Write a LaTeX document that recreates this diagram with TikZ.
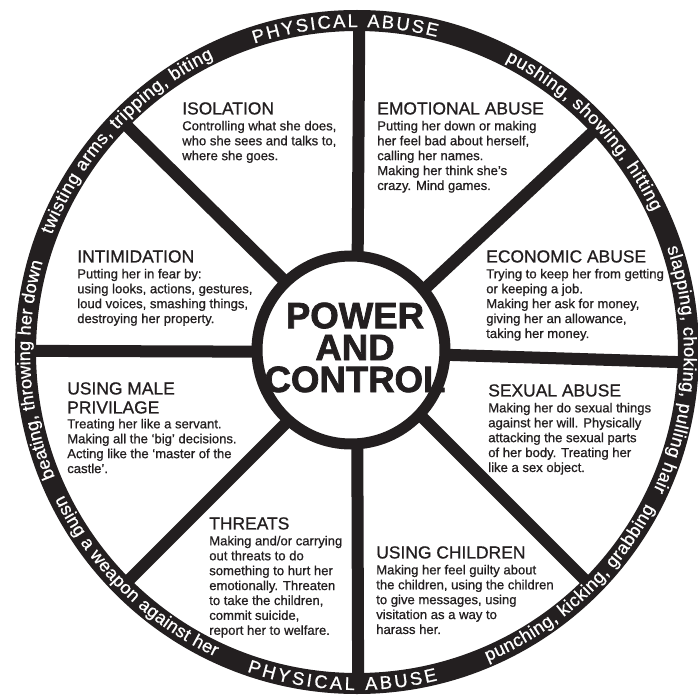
\documentclass[tikz,border=0pt]{standalone}
\usepackage{fontspec}
\setmainfont{Liberation Sans}
\newfontfamily\inkfamily[Ligatures=TeX,FakeBold=0.8]{Liberation Sans}
\newfontfamily\heavyfamily[FakeBold=2]{Liberation Sans Bold}
\usetikzlibrary{decorations.text}
\definecolor{ink}{HTML}{231F20}
\newcommand\titlefont{\fontsize{12.4}{13}\selectfont}
\newcommand\bodyfont{\inkfamily\fontsize{9.3}{10.6}\selectfont}
\newcommand\ringfont{\inkfamily\fontsize{12.8}{12.8}\selectfont}
\newcommand\capsfont{\inkfamily\fontsize{13}{13}\selectfont}
\newcommand\hubfont{\heavyfamily\fontsize{26}{22.7}\selectfont}
\def\ringtext(#1:#2:#3)#4{\path[decorate,decoration={text along path,text align=fit to path,text color=white,text={#4}}] (#1:#3) arc (#1:#2:#3);}
\tikzset{
  ring/.style={draw=ink, line width=0.525cm},
  spoke/.style={draw=ink, line width=0.3cm},
  hub/.style={draw=ink, fill=white, line width=0.275cm},
  sector/.style={anchor=north west, align=left, inner sep=0pt, font=\bodyfont, text=ink}
}

\begin{document}
\begin{tikzpicture}[x=0.025cm, y=0.025cm]
		%%%%% START %%%%%
		\useasboundingbox (-357,-347) rectangle (341,352);
		\clip (-357,-347) rectangle (341,352);
		\fill[white] (-357,-347) rectangle (341,352);
		
		% spokes, outer ring, hub
		\foreach \a in {-1.8,43,89.6,135.5,179.8,225,270.2,315}
			\draw[spoke] (0,0) -- (\a:325);
		\draw[ring] (0,0) circle (331.5);
		\draw[hub] (-6,2) circle (94);
		
		\node[align=center, font=\hubfont, text=ink, inner sep=0pt] (centre) at (-2,4.5) {POWER\\AND\\CONTROL};
		
		% ring texts, clockwise above and counter-clockwise below
		\ringtext(108.4:75.8:325){|\capsfont|PHYSICAL ABUSE}
		\ringtext(63:25.4:327){|\ringfont|pushing, showing, hitting}
		\ringtext(18.6:-25:327){|\ringfont|slapping, choking, pulling hair}
		\ringtext(292.9:332.3:336){|\ringfont|punching, kicking, grabbing}
		\ringtext(251:283.8:338){|\capsfont|PHYSICAL ABUSE}
		\ringtext(206:245:336){|\ringfont|using a weapon against her}
		\ringtext(202.5:164:327){|\ringfont|beating, throwing her down}
		\ringtext(159:116:327){|\ringfont|twisting arms, tripping, biting}
		
		% the eight sectors
		\node[sector] (isolation) at (-175,250) {{\titlefont ISOLATION}\\[0.7pt]
			Controlling what she does,\\ who she sees and talks to,\\ where she goes.};
		\node[sector] (emotional) at (20,250) {{\titlefont EMOTIONAL ABUSE}\\[0.7pt]
			Putting her down or making\\ her feel bad about herself,\\ calling her names.\\
			Making her think she’s\\ crazy. Mind games.};
		\node[sector] (economic) at (129,102) {{\titlefont ECONOMIC ABUSE}\\[0.7pt]
			Trying to keep her from getting\\ or keeping a job.\\ Making her ask for money,\\
			giving her an allowance,\\ taking her money.};
		\node[sector] (sexual) at (131,-32) {{\titlefont SEXUAL ABUSE}\\[0.7pt]
			Making her do sexual things\\ against her will. Physically\\ attacking the sexual parts\\
			of her body. Treating her\\ like a sex object.};
		\node[sector] (children) at (19,-194) {{\titlefont USING CHILDREN}\\[0.7pt]
			Making her feel guilty about\\ the children, using the children\\ to give messages, using\\
			visitation as a way to\\ harass her.};
		\node[sector] (threats) at (-148,-165) {{\titlefont THREATS}\\[0.7pt]
			Making and/or carrying\\ out threats to do\\ something to hurt her\\ emotionally. Threaten\\
			to take the children,\\ commit suicide,\\ report her to welfare.};
		\node[sector] (privilage) at (-290,-30) {{\titlefont USING MALE}\\[2.9pt]{\titlefont PRIVILAGE}\\
			Treating her like a servant.\\ Making all the ‘big’ decisions.\\ Acting like the ‘master of the\\ castle’.};
		\node[sector] (intimidation) at (-280,102) {{\titlefont INTIMIDATION}\\[0.7pt]
			Putting her in fear by:\\ using looks, actions, gestures,\\ loud voices, smashing things,\\
			destroying her property.};
		
		%%%%% END %%%%%
\end{tikzpicture}
\end{document}
